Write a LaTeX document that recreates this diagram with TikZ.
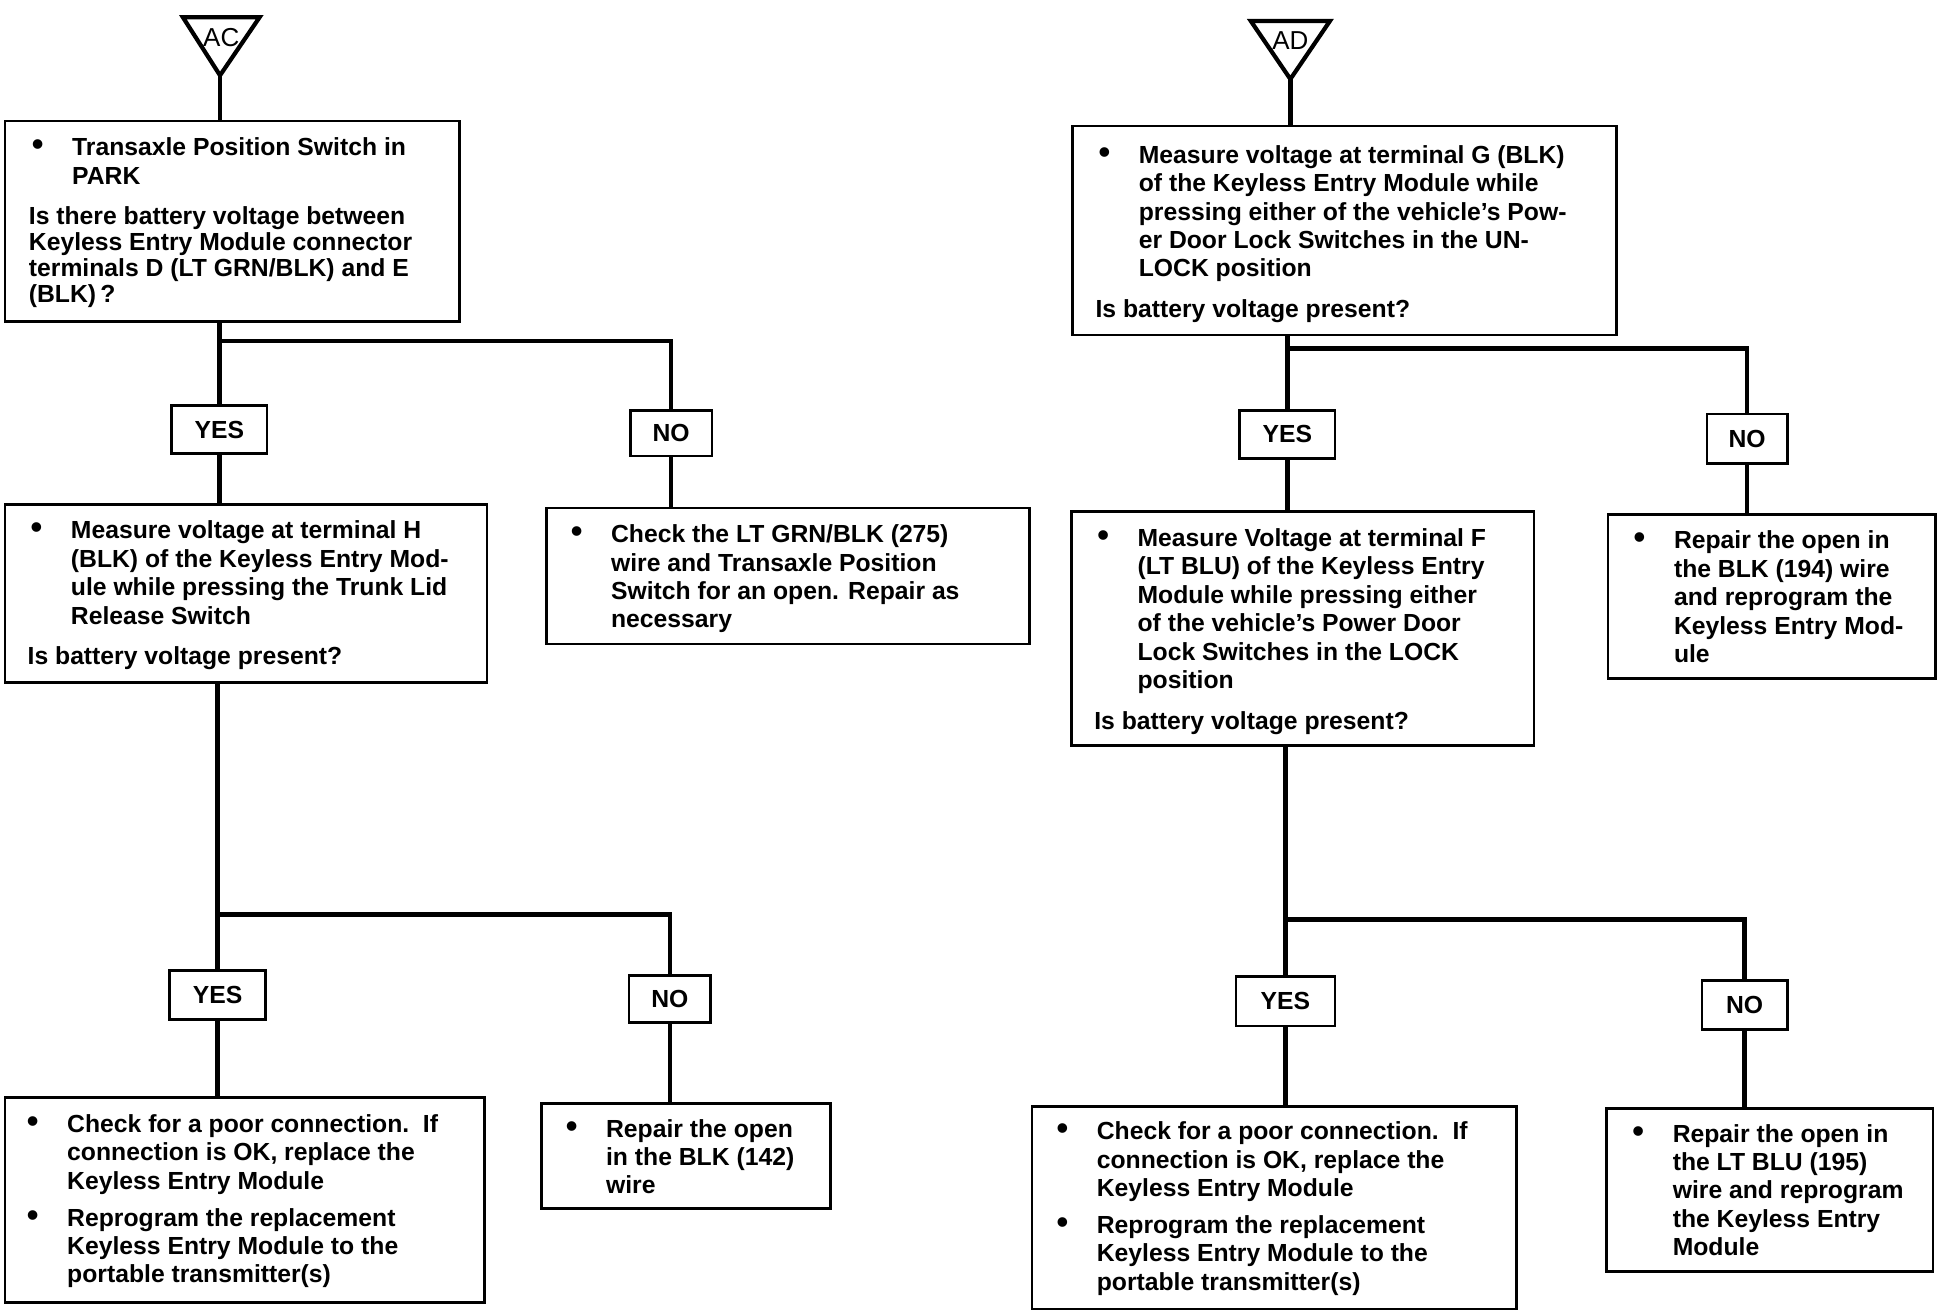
\documentclass[tikz,border=0pt]{standalone}
\usepackage{fontspec}
\setmainfont{Liberation Sans}
\usepackage{graphicx}
\usepackage{array}
\usetikzlibrary{calc,fit}

\newcommand{\bu}{\hspace*{1.2pt}\scalebox{1.35}{\textbullet}}
\newcommand{\B}{\makebox[17.5pt][l]{\bu}}
\newcommand{\Q}[1]{\multicolumn{2}{@{}l@{}}{#1}}
\newenvironment{bt}{\begin{tabular}[t]{@{}l@{}l@{}}}{\end{tabular}}

\tikzset{
  box/.style={draw, line width=1.1pt, rectangle, inner sep=0pt},
  lab/.style={draw, line width=1.1pt, rectangle, inner sep=0pt, font=\fontsize{10}{12}\selectfont\bfseries},
  txt/.style={anchor=base west, inner sep=0pt, font=\fontsize{10}{11.5}\selectfont\bfseries},
  conn/.style={line width=1.9pt},
  tri/.style={line width=1.7pt, line join=miter},
  trilab/.style={inner sep=0pt, font=\fontsize{10.5}{12}\selectfont}
}

\begin{document}
\begin{tikzpicture}[x=0.5pt, y=-0.5pt]
\useasboundingbox (0,0) rectangle (1568,1061);

% ---------- left column ----------
\draw[tri] (148,14) -- (210,14) -- (178,61) -- cycle;
\coordinate (acTip) at (178,61);
\node[trilab] (ac) at (179,30) {AC};

\node[box, fit={(4,98) (372,260)}] (b1) {};
\node[txt] (t1) at (23,126) {\begin{bt}
\B & Transaxle Position Switch in\\
 & PARK\\[5pt]
\Q{Is there battery voltage between}\\[-1pt]
\Q{Keyless Entry Module connector}\\[-1pt]
\Q{terminals D (LT GRN/BLK) and E}\\[-1pt]
\Q{(BLK)\,?}
\end{bt}};

\node[lab, minimum width=38.5pt, minimum height=19.5pt] (yes1) at (177.5,347.5) {YES};
\node[lab, minimum width=33pt, minimum height=18.5pt] (no1) at (543,350.5) {NO};

\node[box, fit={(4,408) (394,552)}] (b2) {};
\node[txt] (t2) at (22,436) {\begin{bt}
\B & Measure voltage at terminal H\\
 & (BLK) of the Keyless Entry Mod-\\
 & ule while pressing the Trunk Lid\\
 & Release Switch\\[5pt]
\Q{Is battery voltage present?}
\end{bt}};

\node[box, fit={(442,411) (833,521)}] (b3) {};
\node[txt] (t3) at (459,439) {\begin{bt}
\B & Check the LT GRN/BLK (275)\\
 & wire and Transaxle Position\\
 & Switch for an open. Repair as\\
 & necessary
\end{bt}};

\node[lab, minimum width=39pt, minimum height=20pt] (yes2) at (176,805) {YES};
\node[lab, minimum width=33pt, minimum height=19pt] (no2) at (542,808) {NO};

\node[box, fit={(4,888) (392,1054)}] (b4) {};
\node[txt] (t4) at (19,916) {\begin{bt}
\B & Check for a poor connection.\ \ If\\
 & connection is OK, replace the\\
 & Keyless Entry Module\\[3.5pt]
\B & Reprogram the replacement\\
 & Keyless Entry Module to the\\
 & portable transmitter(s)
\end{bt}};

\node[box, fit={(438,893) (672,978)}] (b5) {};
\node[txt] (t5) at (455,920) {\begin{bt}
\B & Repair the open\\
 & in the BLK (142)\\
 & wire
\end{bt}};

\coordinate (j1) at (177.5,276);
\coordinate (j2) at (176,740);
\draw[conn] (acTip) -- (acTip |- b1.north);
\draw[conn] (yes1.north |- b1.south) -- (yes1.north);
\draw[conn] (j1) -| (no1.north);
\draw[conn] (yes1.south) -- (yes1.south |- b2.north);
\draw[conn] (no1.south) -- (no1.south |- b3.north);
\draw[conn] (yes2.north |- b2.south) -- (yes2.north);
\draw[conn] (j2) -| (no2.north);
\draw[conn] (yes2.south) -- (yes2.south |- b4.north);
\draw[conn] (no2.south) -- (no2.south |- b5.north);

% ---------- right column ----------
\draw[tri] (1012,17) -- (1076,17) -- (1044,64) -- cycle;
\coordinate (adTip) at (1044,64);
\node[trilab] (ad) at (1044,33) {AD};

\node[box, fit={(868,102) (1308,271)}] (b6) {};
\node[txt] (t6) at (886,132) {\begin{bt}
\B & Measure voltage at terminal G (BLK)\\
 & of the Keyless Entry Module while\\
 & pressing either of the vehicle's Pow-\\
 & er Door Lock Switches in the UN-\\
 & LOCK position\\[5pt]
\Q{Is battery voltage present?}
\end{bt}};

\node[lab, minimum width=38.5pt, minimum height=19.5pt] (yes3) at (1041.5,351.5) {YES};
\node[lab, minimum width=32.5pt, minimum height=20pt] (no3) at (1413.5,355) {NO};

\node[box, fit={(867,414) (1241,603)}] (b7) {};
\node[txt] (t7) at (885,442) {\begin{bt}
\B & Measure Voltage at terminal F\\
 & (LT BLU) of the Keyless Entry\\
 & Module while pressing either\\
 & of the vehicle's Power Door\\
 & Lock Switches in the LOCK\\
 & position\\[5pt]
\Q{Is battery voltage present?}
\end{bt}};

\node[box, fit={(1301,416) (1566,549)}] (b8) {};
\node[txt] (t8) at (1319,444) {\begin{bt}
\B & Repair the open in\\
 & the BLK (194) wire\\
 & and reprogram the\\
 & Keyless Entry Mod-\\
 & ule
\end{bt}};

\node[lab, minimum width=40pt, minimum height=20pt] (yes4) at (1040,810) {YES};
\node[lab, minimum width=34.5pt, minimum height=20pt] (no4) at (1411.5,813) {NO};

\node[box, fit={(835,895) (1227,1059)}] (b9) {};
\node[txt] (t9) at (852,922) {\begin{bt}
\B & Check for a poor connection.\ \ If\\
 & connection is OK, replace the\\
 & Keyless Entry Module\\[3.5pt]
\B & Reprogram the replacement\\
 & Keyless Entry Module to the\\
 & portable transmitter(s)
\end{bt}};

\node[box, fit={(1300,897) (1564,1029)}] (b10) {};
\node[txt] (t10) at (1318,924) {\begin{bt}
\B & Repair the open in\\
 & the LT BLU (195)\\
 & wire and reprogram\\
 & the Keyless Entry\\
 & Module
\end{bt}};

\coordinate (j3) at (1041.5,282);
\coordinate (j4) at (1040,744);
\draw[conn] (adTip) -- (adTip |- b6.north);
\draw[conn] (yes3.north |- b6.south) -- (yes3.north);
\draw[conn] (j3) -| (no3.north);
\draw[conn] (yes3.south) -- (yes3.south |- b7.north);
\draw[conn] (no3.south) -- (no3.south |- b8.north);
\draw[conn] (yes4.north |- b7.south) -- (yes4.north);
\draw[conn] (j4) -| (no4.north);
\draw[conn] (yes4.south) -- (yes4.south |- b9.north);
\draw[conn] (no4.south) -- (no4.south |- b10.north);
\end{tikzpicture}
\end{document}
